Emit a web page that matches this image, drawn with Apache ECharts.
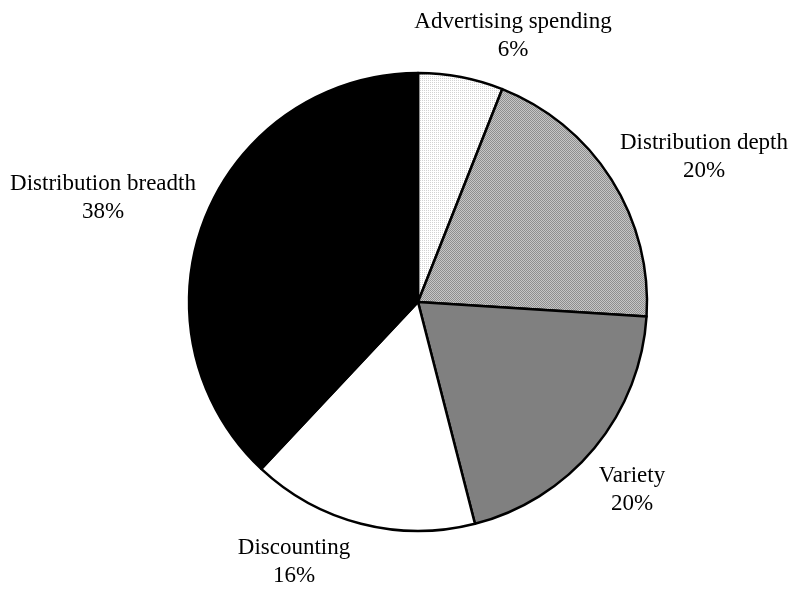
<!DOCTYPE html>
<html>
<head>
<meta charset="utf-8">
<script src="https://cdn.jsdelivr.net/npm/echarts@6/dist/echarts.min.js"></script>
<style>
  html, body { margin: 0; padding: 0; background: #ffffff; }
  #chart { width: 795px; height: 591px; }
</style>
</head>
<body>
<div id="chart"></div>
<script>
// Shares of the marketing mix, clockwise from twelve o'clock
const categories = ['Advertising spending', 'Distribution depth', 'Variety', 'Discounting', 'Distribution breadth'];
const shares = [6, 20, 20, 16, 38];

// Label anchors (centre of each two-line label block)
const labelAnchors = [[513, 36], [704, 157], [632, 490], [294, 562], [103, 198]];

// Small repeating tiles for the textured fills
function makeTile(size, bg, fg, cells) {
  const c = document.createElement('canvas');
  c.width = size; c.height = size;
  const ctx = c.getContext('2d');
  ctx.fillStyle = bg; ctx.fillRect(0, 0, size, size);
  ctx.fillStyle = fg;
  cells.forEach(([x, y]) => ctx.fillRect(x, y, 1, 1));
  return c;
}
const lightDots = makeTile(2, '#ffffff', '#d2d2d2', [[0, 0]]);
const greyWeave = makeTile(2, '#c6c6c6', '#8e8e8e', [[0, 0], [1, 1]]);

const fills = [
  { image: lightDots, repeat: 'repeat' },
  { image: greyWeave, repeat: 'repeat' },
  '#808080',
  '#ffffff',
  '#000000'
];

const chart = echarts.init(document.getElementById('chart'), null, { renderer: 'canvas' });
chart.setOption({
  animation: false,
  backgroundColor: '#ffffff',
  series: [{
    type: 'pie',
    center: [418, 302],
    radius: 229,
    startAngle: 90,
    clockwise: true,
    avoidLabelOverlap: false,
    itemStyle: { borderColor: '#000000', borderWidth: 2.5 },
    emphasis: { disabled: true },
    labelLine: { show: false },
    label: {
      show: true,
      position: 'outside',
      fontFamily: 'Liberation Serif',
      fontSize: 23,
      lineHeight: 28,
      color: '#000000',
      align: 'center',
      formatter: p => p.name + '\n' + p.value + '%'
    },
    labelLayout: p => ({
      x: labelAnchors[p.dataIndex][0],
      y: labelAnchors[p.dataIndex][1],
      align: 'center',
      verticalAlign: 'middle'
    }),
    data: categories.map((name, i) => ({
      name: name,
      value: shares[i],
      itemStyle: { color: fills[i] }
    }))
  }]
});
</script>
</body>
</html>
